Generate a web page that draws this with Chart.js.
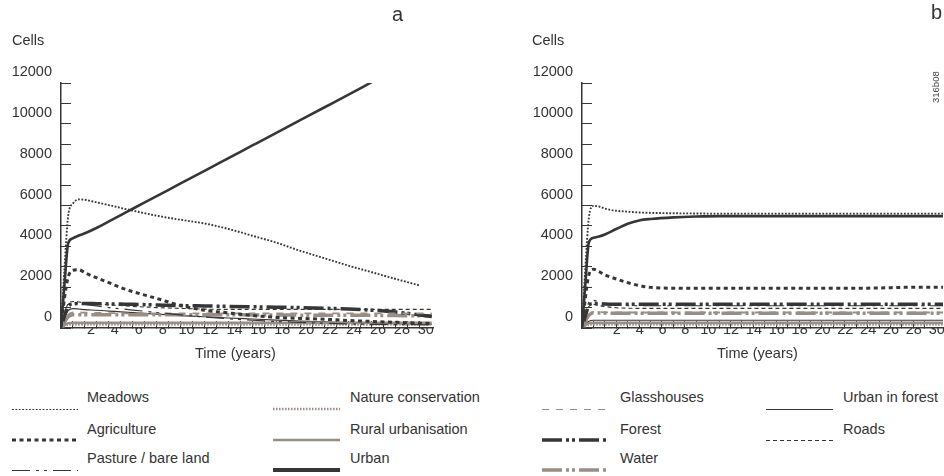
<!DOCTYPE html>
<html>
<head>
<meta charset="utf-8">
<script src="https://cdn.jsdelivr.net/npm/chart.js@4.4.1/dist/chart.umd.min.js"></script>
<style>
  body { margin: 0; background: #fff; width: 944px; height: 476px; overflow: hidden; position: relative;
         font-family: 'Liberation Sans', Arial, sans-serif; color: #333; }
  canvas { position: absolute; top: 0; }
  .txt { position: absolute; font-size: 14.5px; line-height: 1; white-space: nowrap; }
  .panel { position: absolute; font-size: 20px; line-height: 1; }
  .stamp { position: absolute; font-size: 9.5px; line-height: 1; color: #444; transform: rotate(-90deg); transform-origin: left top; }
  svg { position: absolute; overflow: visible; }
</style>
</head>
<body>
<canvas id="chartA" width="472" height="372" style="left:0"></canvas>
<canvas id="chartB" width="472" height="372" style="left:472px"></canvas>

<div class="panel" style="left:392px;top:4px">a</div>
<div class="panel" style="left:931px;top:2px">b</div>
<div class="txt" style="left:12px;top:33px">Cells</div>
<div class="txt" style="left:532px;top:33px">Cells</div>
<div class="txt" style="left:195px;top:346px">Time (years)</div>
<div class="txt" style="left:717px;top:346px">Time (years)</div>
<div class="stamp" style="left:931px;top:103px">316b08</div>
<div id="legend"></div>

<script>
// land-use classes, in legend order (column by column)
const seriesNames = ['Meadows', 'Agriculture', 'Pasture / bare land',
    'Nature conservation', 'Rural urbanisation', 'Urban',
    'Glasshouses', 'Forest', 'Water',
    'Urban in forest', 'Roads'];

// panel a
const yearsA = [0, 0.3, 0.6, 1, 1.5, 2, 3, 4, 5, 6, 8, 10, 12, 14, 16, 18, 20, 22, 24, 26, 28, 30, 31];
const meadowsA = [0, 3000, 5500, 6100, 6300, 6280, 6150, 6020, 5880, 5750, 5500, 5300, 5120, 4850, 4520, 4180, 3780, 3420, 3060, 2730, 2400, 2080, null];
const agricultureA = [0, 1500, 2500, 2830, 2850, 2700, 2450, 2220, 1980, 1780, 1450, 1100, 870, 740, 610, 520, 470, 430, 370, 320, 280, 240, 220];
const pastureA = [0, 700, 1150, 1250, 1200, 1150, 1080, 1000, 940, 880, 760, 640, 540, 450, 380, 320, 270, 230, 200, 180, 170, 160, 150];
const natureA = [0, 100, 160, 180, 180, 180, 180, 180, 180, 180, 180, 180, 180, 180, 180, 180, 180, 180, 180, 180, 180, 180, 180];
const ruralA = [0, 150, 230, 250, 250, 250, 250, 250, 250, 250, 250, 250, 250, 250, 250, 250, 250, 250, 250, 250, 250, 250, 250];
const urbanA = [0, 2200, 4150, 4400, 4530, 4640, 4910, 5220, 5530, 5840, 6460, 7080, 7700, 8320, 8940, 9560, 10180, 10800, 11420, 12050, null, null, null];
const glasshousesA = [0, 350, 650, 760, 760, 750, 740, 730, 720, 720, 720, 720, 720, 720, 720, 720, 720, 720, 720, 720, 720, 720, 720];
const forestA = [0, 600, 1050, 1180, 1200, 1200, 1190, 1180, 1170, 1160, 1130, 1100, 1080, 1060, 1040, 1020, 1000, 970, 930, 870, 780, 640, 560];
const waterA = [0, 300, 550, 650, 650, 650, 650, 650, 650, 650, 650, 650, 650, 650, 640, 640, 630, 630, 620, 620, 610, 600, 600];
const urbanForestA = [0, 500, 850, 950, 930, 900, 870, 830, 790, 750, 680, 610, 550, 490, 440, 390, 340, 300, 260, 230, 210, 190, 180];
const roadsA = [0, 700, 1200, 1300, 1270, 1230, 1180, 1140, 1100, 1060, 1000, 960, 925, 910, 910, 910, 910, 910, 910, 910, 910, 910, 910];

// panel b
const yearsB = [0, 0.3, 0.6, 1, 1.5, 2, 3, 4, 5, 6, 8, 10, 12, 14, 16, 18, 20, 22, 24, 26, 28, 30, 31.6];
const meadowsB = [0, 3000, 5400, 5980, 5950, 5850, 5740, 5700, 5660, 5640, 5620, 5610, 5600, 5600, 5600, 5600, 5600, 5600, 5600, 5600, 5600, 5600, 5600];
const agricultureB = [0, 1500, 2600, 2880, 2760, 2600, 2400, 2220, 2080, 1990, 1950, 1950, 1950, 1950, 1950, 1950, 1950, 1950, 1950, 1960, 1990, 2000, 2000];
const pastureB = [0, 700, 1250, 1350, 1280, 1200, 1120, 1100, 1090, 1090, 1090, 1090, 1090, 1090, 1090, 1090, 1090, 1090, 1090, 1090, 1090, 1090, 1090];
const natureB = [0, 100, 160, 180, 180, 180, 180, 180, 180, 180, 180, 180, 180, 180, 180, 180, 180, 180, 180, 180, 180, 180, 180];
const ruralB = [0, 150, 230, 250, 250, 250, 250, 250, 250, 250, 250, 250, 250, 250, 250, 250, 250, 250, 250, 250, 250, 250, 250];
const urbanB = [0, 2200, 4200, 4420, 4480, 4580, 4850, 5110, 5270, 5340, 5420, 5460, 5480, 5480, 5480, 5480, 5480, 5480, 5480, 5480, 5480, 5480, 5480];
const glasshousesB = [0, 350, 650, 790, 780, 770, 760, 760, 760, 760, 760, 760, 760, 760, 760, 760, 760, 760, 760, 760, 760, 760, 760];
const forestB = [0, 600, 1100, 1200, 1190, 1170, 1160, 1160, 1160, 1160, 1160, 1160, 1160, 1160, 1160, 1160, 1160, 1160, 1160, 1160, 1160, 1160, 1160];
const waterB = [0, 350, 620, 750, 740, 730, 720, 720, 720, 720, 720, 720, 720, 720, 720, 720, 720, 720, 720, 720, 720, 720, 720];
const urbanForestB = [0, 200, 330, 380, 380, 380, 380, 380, 380, 380, 380, 380, 380, 380, 380, 380, 380, 380, 380, 380, 380, 380, 380];
const roadsB = [0, 600, 1050, 1150, 1100, 1050, 990, 970, 960, 960, 960, 960, 960, 960, 960, 960, 960, 960, 960, 960, 960, 960, 960];

const yTicks = [0, 2000, 4000, 6000, 8000, 10000, 12000];

const DARK = '#363636';
const GREY = '#998d88';
const FONT = { family: "'Liberation Sans', Arial, sans-serif", size: 14.5 };
const dashDotDot = [20, 4, 3, 3, 3, 4];

// line style per class (same order as seriesNames)
const styles = [
    { color: DARK, width: 1.9, dash: [1.8, 1.6] },
    { color: DARK, width: 3, dash: [4, 3.5] },
    { color: DARK, width: 1.2, dash: [18, 6, 3, 5, 3, 6] },
    { color: GREY, width: 2.6, dash: [1.5, 1.5] },
    { color: GREY, width: 2.6, dash: [] },
    { color: DARK, width: 2.6, dash: [], legendWidth: 4 },
    { color: GREY, width: 1.8, dash: [7, 7] },
    { color: DARK, width: 3.5, dash: dashDotDot },
    { color: GREY, width: 3.5, dash: dashDotDot },
    { color: DARK, width: 1.2, dash: [] },
    { color: DARK, width: 1.1, dash: [4, 3] },
];

function buildDatasets(years, seriesList) {
    return seriesList.map((values, i) => ({
        label: seriesNames[i],
        data: years.map((x, j) => ({ x: x, y: values[j] })),
        borderColor: styles[i].color,
        borderWidth: styles[i].width,
        borderDash: styles[i].dash,
        pointRadius: 0,
        cubicInterpolationMode: 'monotone',
        spanGaps: false,
        fill: false,
    }));
}

function makeChart(canvasId, years, seriesList, cfg) {
    return new Chart(document.getElementById(canvasId), {
        type: 'line',
        data: { datasets: buildDatasets(years, seriesList) },
        options: {
            responsive: false,
            animation: false,
            layout: { padding: { left: 0, right: cfg.padRight, top: 83, bottom: 0 } },
            plugins: { legend: { display: false }, tooltip: { enabled: false } },
            scales: {
                x: {
                    type: 'linear',
                    min: 0,
                    max: cfg.xMax,
                    border: { color: DARK, width: 1.5 },
                    grid: { drawOnChartArea: false, drawTicks: true, tickLength: -7, color: DARK, lineWidth: 1 },
                    ticks: {
                        stepSize: 1,
                        autoSkip: false,
                        maxRotation: 0,
                        padding: 0,
                        labelOffset: cfg.xLabelOffset,
                        color: '#333',
                        font: FONT,
                        callback: v => (v > 0 && v % 2 === 0) ? String(v) : '',
                    },
                    afterBuildTicks: s => { s.ticks = s.ticks.filter(t => Number.isInteger(t.value)); },
                    afterFit: s => { s.height = 44; },
                },
                y: {
                    min: 0,
                    max: 12000,
                    border: { color: DARK, width: 1.5 },
                    grid: { drawOnChartArea: false, drawTicks: true, tickLength: -10, color: DARK, lineWidth: 1 },
                    ticks: {
                        stepSize: 1000,
                        autoSkip: false,
                        padding: 19,
                        labelOffset: -11,
                        color: '#333',
                        font: FONT,
                        callback: v => yTicks.includes(v) ? String(v) : '',
                    },
                    afterFit: s => { s.width = cfg.yWidth; },
                },
            },
        },
    });
}

makeChart('chartA', yearsA,
    [meadowsA, agricultureA, pastureA, natureA, ruralA, urbanA, glasshousesA, forestA, waterA, urbanForestA, roadsA],
    { xMax: 31.1, xLabelOffset: 6, yWidth: 61, padRight: 39 });

makeChart('chartB', yearsB,
    [meadowsB, agricultureB, pastureB, natureB, ruralB, urbanB, glasshousesB, forestB, waterB, urbanForestB, roadsB],
    { xMax: 31.6, xLabelOffset: 12, yWidth: 110, padRight: 1 });

// legend: 4 columns of (sample line, label)
const legendCols = [{ x: 12, w: 66, tx: 87 }, { x: 273, w: 67, tx: 350 }, { x: 542, w: 67, tx: 620 }, { x: 766, w: 67, tx: 843 }];
const legendRows = [{ ty: 397, ly: 409 }, { ty: 429, ly: 440 }, { ty: 458, ly: 470 }];
const legend = document.getElementById('legend');
seriesNames.forEach((name, i) => {
    const col = legendCols[Math.floor(i / 3)];
    const row = legendRows[i % 3];
    const st = styles[i];
    const lw = st.legendWidth || st.width;
    const yMid = lw < 2 ? 5.5 : 5;
    const svgNS = 'http://www.w3.org/2000/svg';
    const svg = document.createElementNS(svgNS, 'svg');
    svg.setAttribute('width', col.w);
    svg.setAttribute('height', 10);
    svg.style.left = col.x + 'px';
    svg.style.top = (row.ly - 5) + 'px';
    const line = document.createElementNS(svgNS, 'line');
    line.setAttribute('x1', 0);
    line.setAttribute('x2', col.w);
    line.setAttribute('y1', yMid);
    line.setAttribute('y2', yMid);
    line.setAttribute('stroke', st.color);
    line.setAttribute('stroke-width', lw < 2 ? 1 : lw);
    if (st.dash.length) line.setAttribute('stroke-dasharray', st.dash.join(' '));
    svg.appendChild(line);
    legend.appendChild(svg);

    const label = document.createElement('div');
    label.className = 'txt';
    label.style.left = col.tx + 'px';
    label.style.top = (row.ty - 7) + 'px';
    label.textContent = name;
    legend.appendChild(label);
});
</script>
</body>
</html>
